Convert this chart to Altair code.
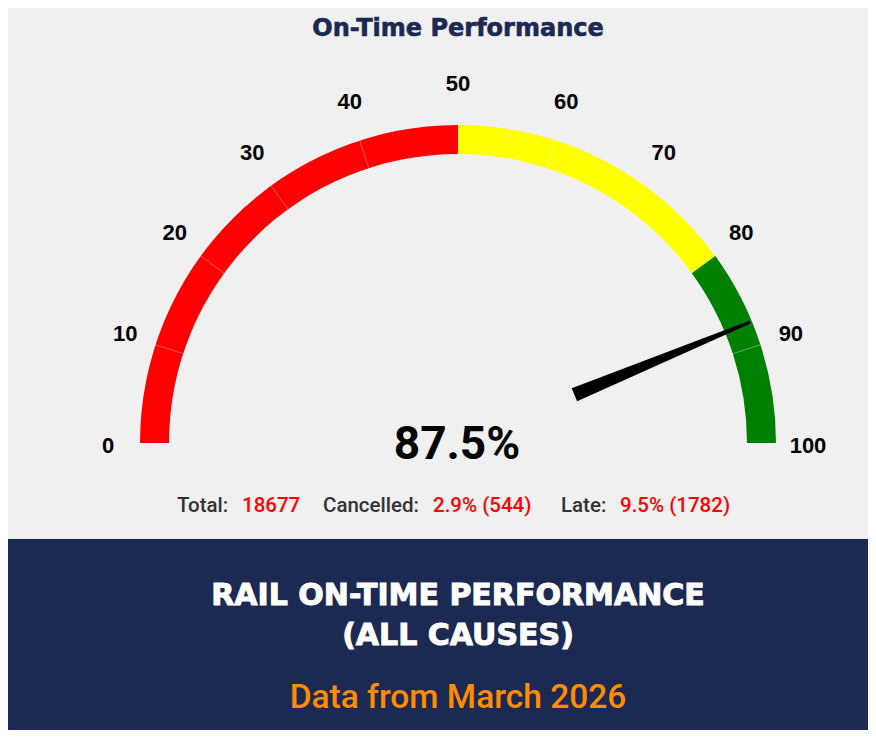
import math
import altair as alt
import pandas as pd

# ---------------- data ----------------
chart_title = "On-Time Performance"
band_start = [0, 50, 80]
band_end = [50, 80, 100]
band_color = ["#ff0000", "#ffff00", "#008000"]
tick_values = [0, 10, 20, 30, 40, 50, 60, 70, 80, 90, 100]
separator_values = [10, 20, 30, 40, 60, 70, 90]
on_time_pct = 87.5
stat_labels = ["Total:", "Cancelled:", "Late:"]
stat_values = ["18677", "2.9% (544)", "9.5% (1782)"]
banner_lines = ["RAIL ON-TIME PERFORMANCE", "(ALL CAUSES)"]
banner_note = "Data from March 2026"

# ---------------- layout (pixels) ----------------
W, H = 860, 722
CX, CY = 450, 435          # gauge centre
R_OUT, R_IN = 318, 289     # band radii
LCX, LCY, LRX, LRY = 450, 438, 350, 362   # label ellipse
N_IN, N_OUT = 126, 316     # needle extent
NAVY = "#1c2952"
BG = "#f0f0f0"

theta_scale = alt.Scale(domain=[0, 100], range=[-math.pi / 2, math.pi / 2])

# coloured bands
bands = pd.DataFrame({"start": band_start, "end": band_end, "color": band_color})
arcs = alt.Chart(bands).mark_arc(radius=R_OUT, radius2=R_IN).encode(
    theta=alt.Theta("start:Q", scale=theta_scale, stack=None),
    theta2="end:Q",
    color=alt.Color("color:N", scale=None),
    x=alt.value(CX),
    y=alt.value(CY),
)

# thin separators every 10
seps = alt.Chart(pd.DataFrame({"v": separator_values})).transform_calculate(
    a="PI*(1-datum.v/100)"
).transform_calculate(
    x1=f"{CX}+cos(datum.a)*{R_IN}",
    y1=f"{CY}-sin(datum.a)*{R_IN}",
    x2=f"{CX}+cos(datum.a)*{R_OUT}",
    y2=f"{CY}-sin(datum.a)*{R_OUT}",
).mark_rule(color="white", strokeWidth=1, opacity=0.35).encode(
    x=alt.X("x1:Q", scale=None, axis=None),
    y=alt.Y("y1:Q", scale=None, axis=None),
    x2="x2:Q",
    y2="y2:Q",
)

# tick labels
labels = alt.Chart(pd.DataFrame({"v": tick_values})).transform_calculate(
    a="PI*(1-datum.v/100)"
).transform_calculate(
    lx=f"{LCX}+cos(datum.a)*{LRX}",
    ly=f"{LCY}-sin(datum.a)*{LRY}",
).mark_text(
    font="Liberation Sans", fontSize=22, fontWeight="bold", color="#000000",
    align="center", baseline="middle",
).encode(
    x=alt.X("lx:Q", scale=None, axis=None),
    y=alt.Y("ly:Q", scale=None, axis=None),
    text="v:Q",
)

# needle (tapered custom symbol)
needle_path = "M -1 -0.074 L 1 -0.016 L 1 0.016 L -1 0.074 Z"
needle = alt.Chart(pd.DataFrame({"v": [on_time_pct]})).transform_calculate(
    a="PI*(1-datum.v/100)",
    ang="180+datum.v*1.8",
).transform_calculate(
    nx=f"{CX}+cos(datum.a)*{(N_IN + N_OUT) / 2}",
    ny=f"{CY}-sin(datum.a)*{(N_IN + N_OUT) / 2}",
).mark_point(
    shape=needle_path, filled=True, color="#000000", opacity=1, strokeWidth=0,
    size=(N_OUT - N_IN) ** 2,
).encode(
    x=alt.X("nx:Q", scale=None, axis=None),
    y=alt.Y("ny:Q", scale=None, axis=None),
    angle=alt.Angle("ang:Q", scale=None),
)

# big value
value_text = alt.Chart(pd.DataFrame({"v": [on_time_pct]})).transform_calculate(
    t="format(datum.v, '.1f') + '%'"
).mark_text(
    font="Roboto", fontSize=46, fontWeight="bold", color="#000000",
    align="center", baseline="middle",
).encode(x=alt.value(449), y=alt.value(437), text="t:N")

# title
title = alt.Chart(pd.DataFrame({"t": [chart_title]})).mark_text(
    font="DejaVu Sans", fontSize=24, fontWeight="bold", color=NAVY,
    stroke=NAVY, strokeWidth=0.6, align="center", baseline="middle",
).encode(x=alt.value(450), y=alt.value(21), text="t:N")

# stats line
stat_x = [169, 234, 315, 425, 553, 612]
stat_rows = []
for i, (lab, val) in enumerate(zip(stat_labels, stat_values)):
    stat_rows.append({"t": lab, "px": stat_x[2 * i], "c": "#333333"})
    stat_rows.append({"t": val, "px": stat_x[2 * i + 1], "c": "#ff0000"})
stats = alt.Chart(pd.DataFrame(stat_rows)).mark_text(
    font="Roboto", fontSize=20.5, fontWeight=500, align="left", baseline="middle",
).encode(
    x=alt.X("px:Q", scale=None, axis=None),
    y=alt.value(498),
    text="t:N",
    color=alt.Color("c:N", scale=None),
)

# navy banner
banner = alt.Chart(pd.DataFrame({"k": [0]})).mark_rect(color=NAVY).encode(
    x=alt.value(0), x2=alt.value(W), y=alt.value(531), y2=alt.value(H)
)
banner_text = alt.Chart(pd.DataFrame({"t": banner_lines, "py": [588, 628]})).mark_text(
    font="DejaVu Sans", fontSize=30, fontWeight="bold", color="#ffffff",
    stroke="#ffffff", strokeWidth=1, align="center", baseline="middle",
).encode(x=alt.value(450), y=alt.Y("py:Q", scale=None, axis=None), text="t:N")
note_text = alt.Chart(pd.DataFrame({"t": [banner_note]})).mark_text(
    font="Roboto", fontSize=33.5, fontWeight=500, color="#ff8c00",
    align="center", baseline="middle",
).encode(x=alt.value(450), y=alt.value(690), text="t:N")

chart = alt.layer(
    banner, arcs, seps, labels, needle, value_text, title, stats, banner_text, note_text
).properties(
    width=W, height=H, autosize="none", padding=0, background=BG
).configure_view(stroke=None)

chart.save("out.html", embed_options={"renderer": "svg", "actions": False})
